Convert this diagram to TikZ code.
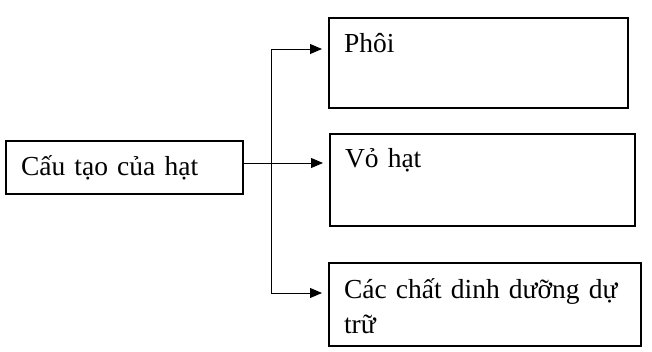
\documentclass[tikz,border=0pt]{standalone}
\usepackage{fontspec}
\setmainfont{Liberation Serif}
\usetikzlibrary{arrows.meta,positioning}

\begin{document}
\begin{tikzpicture}[
  x=1pt, y=-1pt,
  hopbox/.style={draw=black, line width=2pt, anchor=north west, align=left, inner xsep=15pt, inner ysep=0pt, font=\fontsize{27.5}{35.5}\selectfont},
  muiten/.style={-{Triangle[length=12pt,width=10pt]}, line width=0.9pt, shorten >=6pt},
]
\useasboundingbox (0,0) rectangle (652,352);

% ===================== Boxes =====================
\node[hopbox, text width=207pt, text height=35pt, text depth=18pt] (cautao) at (5,140) {Cấu tạo của hạt};

\node[hopbox, text width=269pt, text height=35pt, text depth=55pt] (phoi) at (328,17) {Phôi};
\node[hopbox, text width=275pt, text height=34pt, text depth=58pt] (vohat) at (329,133) {Vỏ hạt};
\node[hopbox, text width=282pt, text height=35pt, text depth=48pt] (chatdd) at (328,262) {Các chất dinh dưỡng dự\\trữ};

% ===================== Connectors =====================
\coordinate (nhanT) at (271,49);
\coordinate (nhanG) at (271,163);
\coordinate (nhanD) at (271,293);

\draw[line width=0.9pt] (nhanT) -- (nhanD);
\draw[muiten] (nhanT) -- (phoi.west |- nhanT);
\draw[muiten] (cautao.east |- nhanG) -- (vohat.west |- nhanG);
\draw[muiten] (nhanD) -- (chatdd.west |- nhanD);

\end{tikzpicture}
\end{document}
